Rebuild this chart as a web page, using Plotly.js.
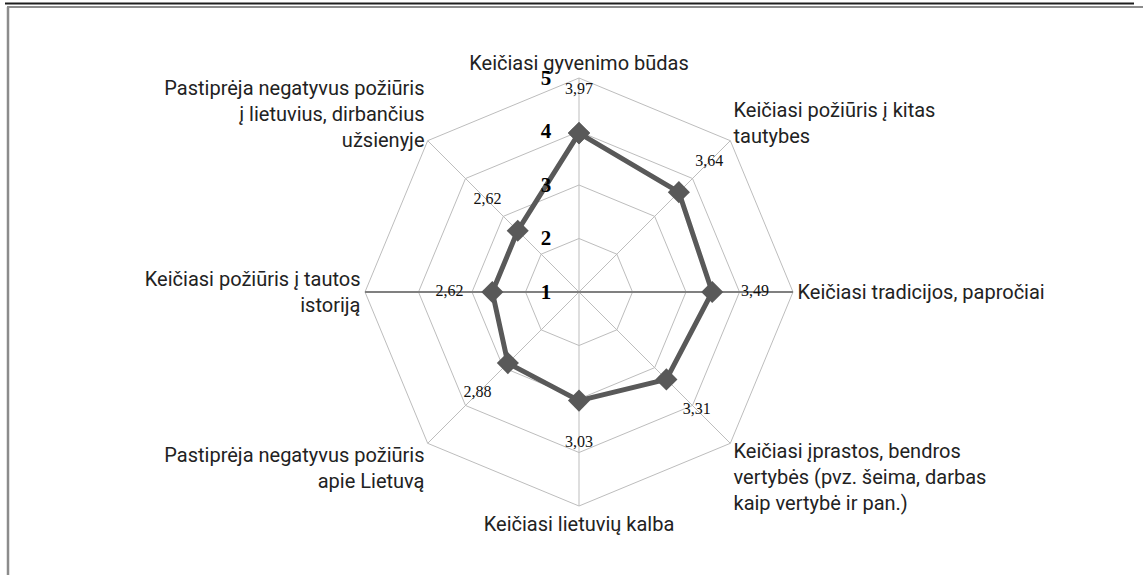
<!DOCTYPE html>
<html>
<head>
<meta charset="utf-8">
<script src="https://cdn.plot.ly/plotly-3.0.1.min.js"></script>
<style>html,body{margin:0;padding:0;background:#fff;}#chart{width:1143px;height:575px;}</style>
</head>
<body>
<div id="chart"></div>
<script>
// Categories (clockwise from top)
const categories = [
  "Keičiasi gyvenimo būdas",
  "Keičiasi požiūris į kitas<br>tautybes",
  "Keičiasi tradicijos, papročiai",
  "Keičiasi įprastos, bendros<br>vertybės (pvz. šeima, darbas<br>kaip vertybė ir pan.)",
  "Keičiasi lietuvių kalba",
  "Pastiprėja negatyvus požiūris<br>apie Lietuvą",
  "Keičiasi požiūris į tautos<br>istoriją",
  "Pastiprėja negatyvus požiūris<br>į lietuvius, dirbančius<br>užsienyje"
];
const values = [3.97, 3.64, 3.49, 3.31, 3.03, 2.88, 2.62, 2.62];
const radialTicks = [1, 2, 3, 4, 5];
const radialTickLabels = ["<b>1</b>", "<b>2</b>", "<b>3</b>", "<b>4</b>", "<b>5</b>"];

const LABEL_OFFSET = 0.8; // radial offset for data labels
const fmt = v => v.toFixed(2).replace('.', ',');

const W = 1143, H = 575;
const cx = 579, cy = 292, R = 214;
const dom = {
  x: [(cx - R) / W, (cx + R) / W],
  y: [(H - cy - R) / H, (H - cy + R) / H]
};

const catFont = {family: "Roboto, sans-serif", size: 20, color: "#222"};

const closedTheta = categories.concat([categories[0]]);
const closedR = values.concat([values[0]]);

const traces = [
  {type: "scatterpolar", subplot: "polar", r: [], theta: [], mode: "markers", showlegend: false, hoverinfo: "skip"},
  {type: "scatterpolar", subplot: "polar2", r: [], theta: [], mode: "markers", showlegend: false, hoverinfo: "skip"},
  {type: "scatterpolar", subplot: "polar3", r: closedR, theta: closedTheta, mode: "lines+markers",
   line: {color: "#595959", width: 5},
   marker: {symbol: "diamond", size: 17, color: "#595959"},
   showlegend: false, hoverinfo: "skip"},
  {type: "scatterpolar", subplot: "polar3", r: values.map(v => v + LABEL_OFFSET), theta: categories,
   mode: "text", text: values.map(fmt),
   textfont: {family: "Liberation Serif, Times New Roman, serif", size: 16, color: "#111"},
   showlegend: false, hoverinfo: "skip"}
];

function angAxis(showLabels, showGrid) {
  return {
    type: "category", categoryarray: categories, direction: "clockwise", rotation: 90,
    showgrid: showGrid, gridcolor: "#bdbdbd", gridwidth: 1,
    showline: showGrid, linecolor: "#bdbdbd", linewidth: 1,
    ticks: "", showticklabels: showLabels, tickfont: catFont
  };
}

const layout = {
  width: W, height: H,
  margin: {l: 0, r: 0, t: 0, b: 0},
  paper_bgcolor: "#fff",
  showlegend: false,
  polar: {
    domain: dom, bgcolor: "rgba(0,0,0,0)", gridshape: "linear",
    angularaxis: angAxis(true, true),
    radialaxis: {range: [1, 5], angle: 0, tickvals: radialTicks, showticklabels: false, ticks: "",
                 showgrid: true, gridcolor: "#bdbdbd", gridwidth: 1,
                 showline: true, linecolor: "#808080", linewidth: 2}
  },
  polar2: {
    domain: dom, bgcolor: "rgba(0,0,0,0)", gridshape: "linear",
    angularaxis: angAxis(false, false),
    radialaxis: {range: [1, 5], angle: 180, showticklabels: false, ticks: "", showgrid: false,
                 showline: true, linecolor: "#808080", linewidth: 2}
  },
  polar3: {
    domain: dom, bgcolor: "rgba(0,0,0,0)", gridshape: "linear",
    angularaxis: angAxis(false, false),
    radialaxis: {range: [1, 5], angle: 90, side: "counterclockwise", tickangle: 90,
                 tickvals: radialTicks, ticktext: radialTickLabels,
                 ticks: "outside", ticklen: 20, tickcolor: "rgba(0,0,0,0)",
                 showgrid: false, showline: false,
                 tickfont: {family: "Liberation Serif, serif", size: 21, color: "#000"}}
  },
  shapes: [
    {type: "line", xref: "paper", yref: "paper", x0: 5 / W, x1: 1134 / W, y0: 1 - 3.5 / H, y1: 1 - 3.5 / H,
     line: {color: "#1e1e1e", width: 2}},
    {type: "line", xref: "paper", yref: "paper", x0: 7 / W, x1: 1, y0: 1 - 7 / H, y1: 1 - 7 / H,
     line: {color: "#8c8c8c", width: 2}},
    {type: "line", xref: "paper", yref: "paper", x0: 8 / W, x1: 8 / W, y0: 1 - 7 / H, y1: 0,
     line: {color: "#8c8c8c", width: 2.5}}
  ]
};

Plotly.newPlot("chart", traces, layout, {staticPlot: true});
</script>
</body>
</html>
